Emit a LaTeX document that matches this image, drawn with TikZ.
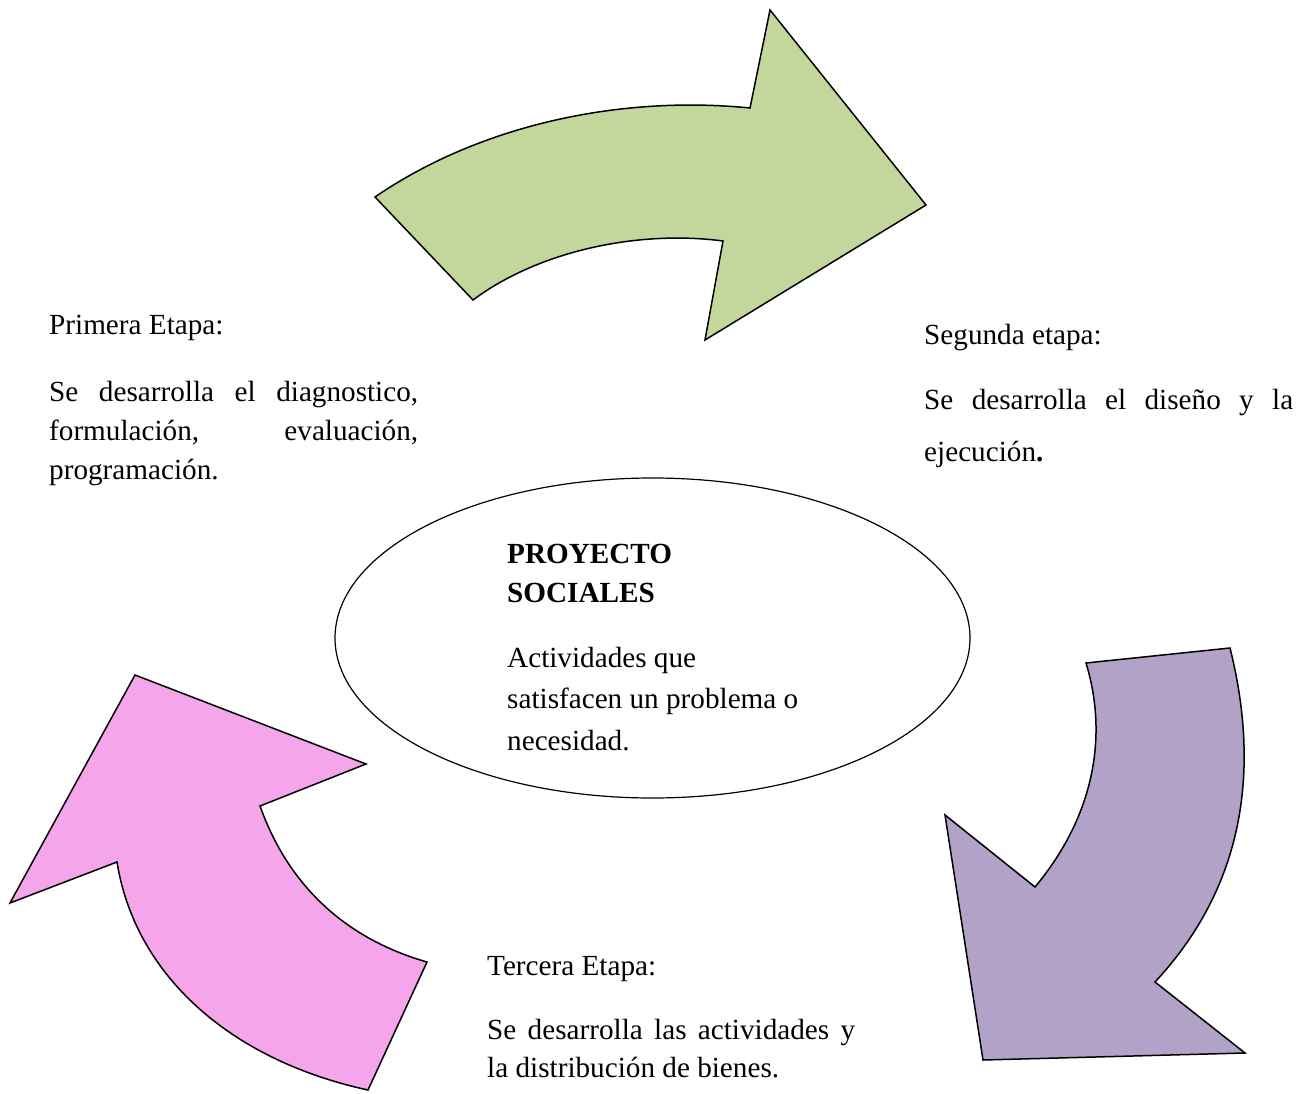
\documentclass[tikz,border=0pt]{standalone}
\usepackage{fontspec}
\setmainfont{Liberation Serif}
\definecolor{greenfill}{HTML}{C3D69B}
\definecolor{purplefill}{HTML}{B2A2C7}
\definecolor{pinkfill}{HTML}{F5A6EA}
\tikzset{
  arrowshape/.style={draw=black, line width=1.5pt, line join=miter},
  txt/.style={anchor=base west, inner sep=0pt, font=\fontsize{29.2}{39}\selectfont},
}
\begin{document}
\begin{tikzpicture}[x=1pt,y=-1pt]
\useasboundingbox (0,0) rectangle (1306,1094);
% green arrow
\draw[arrowshape, fill=greenfill] (375,197) .. controls (480,125) and (620,95) .. (750,108)
  -- (770,10) -- (926,205) -- (705,340) -- (723,241)
  .. controls (640,230) and (540,250) .. (473,300) -- cycle;
% purple arrow
\draw[arrowshape, fill=purplefill] (1086,663) -- (1230,648)
  .. controls (1258,760) and (1250,880) .. (1155,982)
  -- (1245,1053) -- (983,1060) -- (945,815) -- (1035,887)
  .. controls (1095,815) and (1108,735) .. (1086,663) -- cycle;
% pink arrow
\draw[arrowshape, fill=pinkfill] (135,675) -- (366,764) -- (260,806)
  .. controls (290,890) and (350,940) .. (427,962)
  -- (368,1090) .. controls (230,1060) and (135,975) .. (117,862)
  -- (10,903) -- cycle;
% ellipse
\draw[line width=1.2pt] (652.5,638) ellipse [x radius=317.5, y radius=160];
% Primera
\node[txt] (p1) at (49,334) {Primera Etapa:};
\node[txt] (p2) at (49,401) {\makebox[369pt][s]{Se desarrolla el diagnostico,}};
\node[txt] (p3) at (49,440) {\makebox[369pt][s]{formulación, evaluación,}};
\node[txt] (p4) at (49,479) {programación.};
% Segunda
\node[txt] (s1) at (924,344) {Segunda etapa:};
\node[txt] (s2) at (924,409) {\makebox[369pt][s]{Se desarrolla el diseño y la}};
\node[txt] (s3) at (924,461) {ejecución\textbf{.}};
% centre
\node[txt] (c1) at (507,563) {\textbf{PROYECTO}};
\node[txt] (c2) at (507,602) {\textbf{SOCIALES}};
\node[txt] (c3) at (507,667) {Actividades que};
\node[txt] (c4) at (507,708) {satisfacen un problema o};
\node[txt] (c5) at (507,750) {necesidad.};
% Tercera
\node[txt] (t1) at (487,975) {Tercera Etapa:};
\node[txt] (t2) at (487,1039) {\makebox[368pt][s]{Se desarrolla las actividades y}};
\node[txt] (t3) at (487,1077) {la distribución de bienes.};
\end{tikzpicture}
\end{document}
